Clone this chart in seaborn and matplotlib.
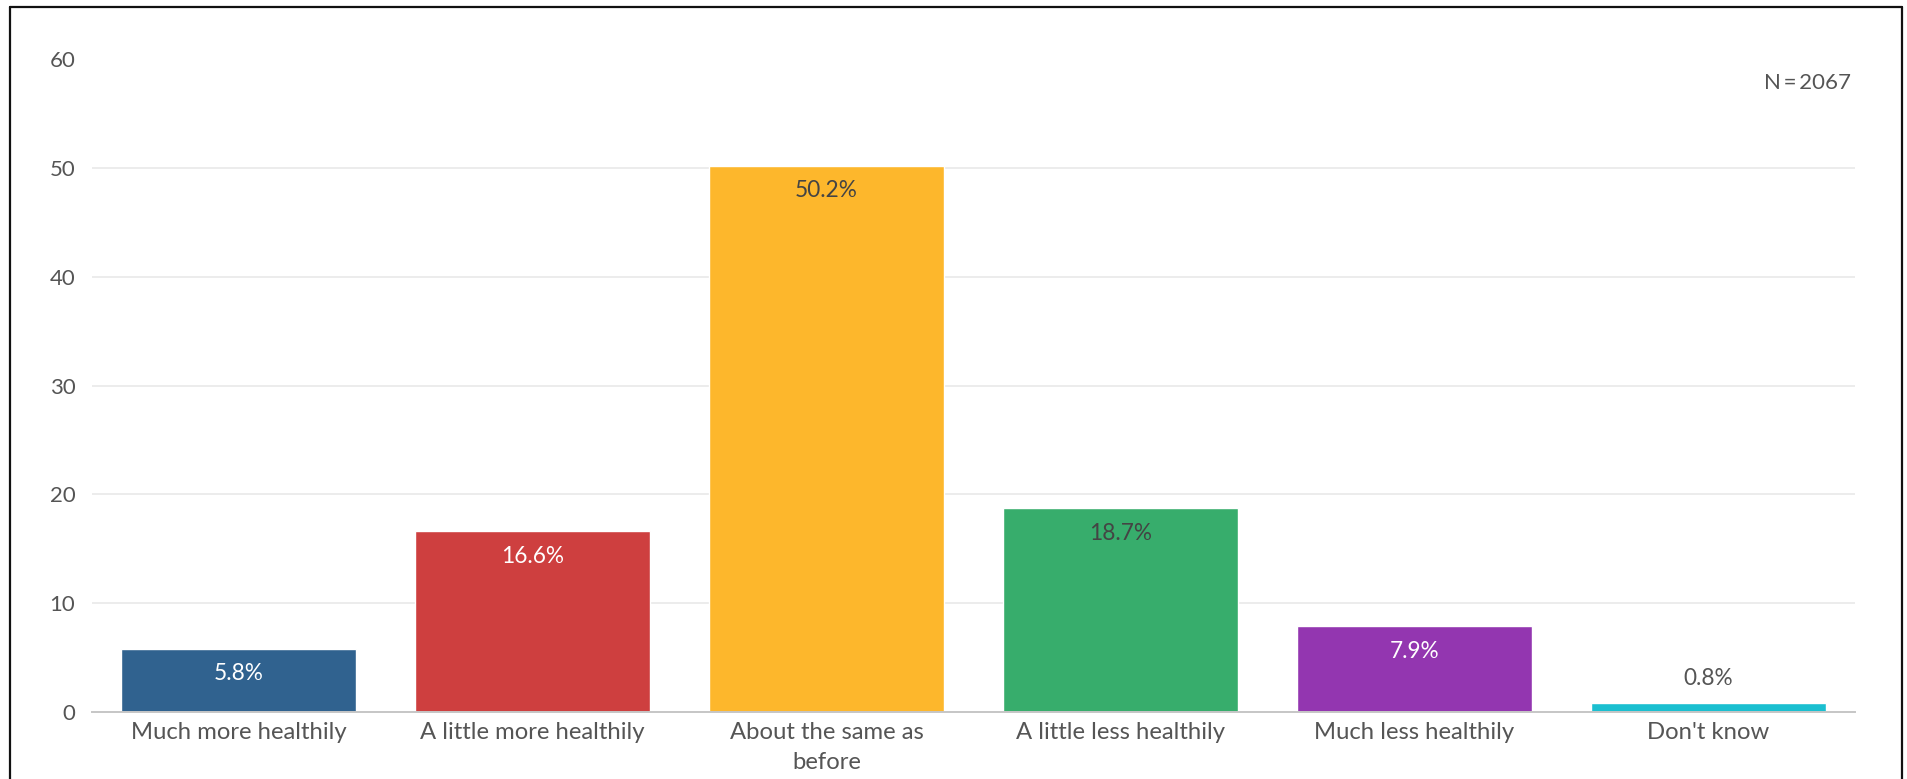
import matplotlib
matplotlib.use("Agg")
import matplotlib.pyplot as plt
import seaborn as sns
import pandas as pd
from matplotlib.lines import Line2D

# Survey answers and their shares (%)
categories = [
    "Much more healthily",
    "A little more healthily",
    "About the same as\nbefore",
    "A little less healthily",
    "Much less healthily",
    "Don't know",
]
shares = [5.8, 16.6, 50.2, 18.7, 7.9, 0.8]
bar_colors = ["#30628f", "#ce3f3f", "#fdb72c", "#37ad6c", "#9336b0", "#1bbfd0"]
label_colors = ["white", "white", "#444444", "#444444", "white", "#555555"]
y_ticks = [0, 10, 20, 30, 40, 50, 60]
sample_note = "N\u2009=\u20092067"

sns.set_theme(style="white")
plt.rcParams["font.family"] = ["Lato", "DejaVu Sans"]

W, H = 1908, 779
fig = plt.figure(figsize=(W / 100, H / 100), dpi=100)
ax = fig.add_axes([92 / W, 1 - 712 / H, (1855 - 92) / W, (712 - 59) / H])

df = pd.DataFrame({"answer": categories, "share": shares})
sns.barplot(data=df, x="answer", y="share", hue="answer", palette=bar_colors,
            legend=False, width=0.8, saturation=1, ax=ax)

# Value labels: inside the bar near its top, or above very short bars
for i, (v, c) in enumerate(zip(shares, label_colors)):
    inside = v > 3
    ax.annotate(f"{v}%", xy=(i, v), xytext=(0, -18 if inside else 18),
                textcoords="offset points", ha="center", va="center",
                fontsize=16.3, color=c)

ax.set_xlim(-0.5, len(categories) - 0.5)
ax.set_ylim(0, 60)
ax.set_yticks(y_ticks)
ax.set_xlabel("")
ax.set_ylabel("")

ax.set_axisbelow(True)
ax.yaxis.grid(True, color="#e9e9e9", linewidth=1.2)
for gl, t in zip(ax.get_ygridlines(), y_ticks):
    if t in (0, 60):
        gl.set_visible(False)

for side in ("top", "right", "left"):
    ax.spines[side].set_visible(False)
ax.spines["bottom"].set_color("#c6c6c6")
ax.spines["bottom"].set_linewidth(1.4)

ax.tick_params(axis="y", length=0, labelsize=16, labelcolor="#555555", pad=12)
ax.tick_params(axis="x", length=0, labelsize=17.2, labelcolor="#555555", pad=7)
for lbl in ax.get_xticklabels():
    lbl.set_linespacing(1.55)

fig.text(1851 / W, 1 - 83 / H, sample_note, ha="right", va="center",
         fontsize=16, color="#555555")

# Frame around the chart (open at the bottom edge)
frame_kw = dict(transform=fig.transFigure, color="#111111", linewidth=1.6)
xl, xr, yt = 10 / W, 1902 / W, 1 - 7 / H
fig.add_artist(Line2D([xl, xl], [0, yt], **frame_kw))
fig.add_artist(Line2D([xr, xr], [0, yt], **frame_kw))
fig.add_artist(Line2D([xl, xr], [yt, yt], **frame_kw))

fig.savefig("out.png", dpi=100, facecolor="white")
